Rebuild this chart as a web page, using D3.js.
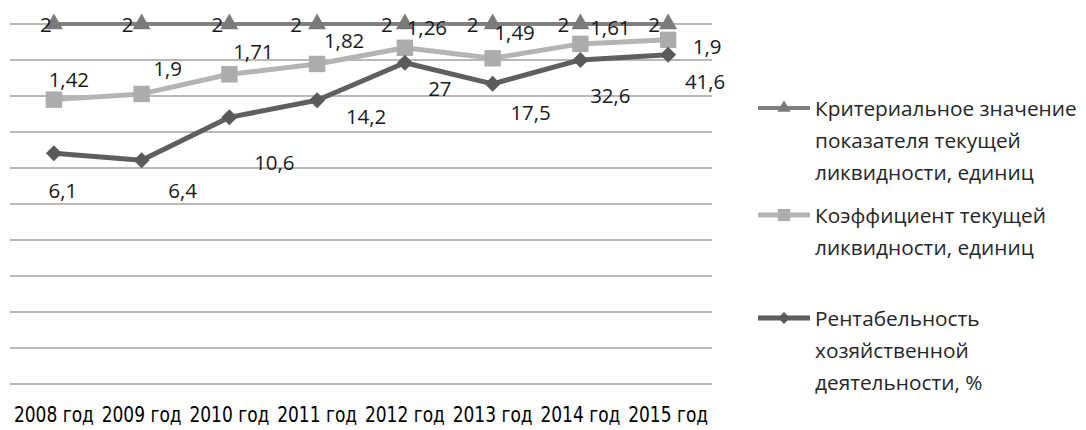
<!DOCTYPE html>
<html>
<head>
<meta charset="utf-8">
<script src="https://cdn.jsdelivr.net/npm/d3@7"></script>
<style>
  body { margin: 0; background: #fff; }
  svg { display: block; }
</style>
</head>
<body>
<div id="chart"></div>
<script>
// categories and series (100% stacked line chart, as in the original)
var years = ["2008 год", "2009 год", "2010 год", "2011 год", "2012 год", "2013 год", "2014 год", "2015 год"];
var criterion = [2, 2, 2, 2, 2, 2, 2, 2];
var coefficient = [1.42, 1.9, 1.71, 1.82, 1.26, 1.49, 1.61, 1.9];
var profitability = [6.1, 6.4, 10.6, 14.2, 27, 17.5, 32.6, 41.6];
var seriesNames = [
  ["Критериальное значение", "показателя текущей", "ликвидности, единиц"],
  ["Коэффициент текущей", "ликвидности, единиц"],
  ["Рентабельность", "хозяйственной", "деятельности, %"]
];

// label nudges (px) relative to each point, the labels were moved by hand in the source
var nudgeCrit = [[-8, 0], [-14, 0], [-12, 0], [-21, 0], [-18, 0], [-20, 0], [-17, 0], [-14, 0]];
var nudgeCoef = [[15, -21], [26, -26], [24, -23], [27, -24], [22, -21], [22, -26], [30, -17], [39, 6]];
var nudgeProf = [[9, 37], [41, 30], [45, 45], [49, 16], [35, 25], [38, 28], [30, 35], [37, 26]];

var width = 1086, height = 430;
var plot = { left: 10, right: 712, top: 24, bottom: 384 };

var svg = d3.select("#chart")
  .append("svg")
  .attr("width", width)
  .attr("height", height);

var table = years.map(function (y, i) {
  return { year: y, prof: profitability[i], coef: coefficient[i], crit: criterion[i] };
});

var stacked = d3.stack()
  .keys(["prof", "coef", "crit"])
  .offset(d3.stackOffsetExpand)(table);

var x = d3.scalePoint().domain(years).range([plot.left, plot.right]).padding(0.5);
var y = d3.scaleLinear().domain([0, 1]).range([plot.bottom, plot.top]);

// gridlines
svg.append("g")
  .selectAll("line")
  .data(y.ticks(10))
  .enter()
  .append("line")
  .attr("x1", plot.left)
  .attr("x2", plot.right)
  .attr("y1", function (d) { return y(d); })
  .attr("y2", function (d) { return y(d); })
  .attr("stroke", "#a0a0a0")
  .attr("stroke-width", 1.5);

// x axis labels
svg.append("g")
  .selectAll("text")
  .data(years)
  .enter()
  .append("text")
  .attr("x", function (d) { return x(d); })
  .attr("y", 422)
  .attr("text-anchor", "middle")
  .attr("textLength", 80)
  .attr("lengthAdjust", "spacingAndGlyphs")
  .style("font-family", "'DejaVu Sans Condensed', sans-serif")
  .style("font-size", "22px")
  .style("fill", "#000")
  .text(function (d) { return d; });

var styles = {
  crit: { color: "#7f7f7f", marker: "#7a7a7a", width: 4, symbol: d3.symbolTriangle, size: 140, rotate: 0, labels: criterion, nudge: nudgeCrit },
  coef: { color: "#b4b4b4", marker: "#acacac", width: 5, symbol: d3.symbolSquare, size: 270, rotate: 0, labels: coefficient, nudge: nudgeCoef },
  prof: { color: "#5f5f5f", marker: "#5a5a5a", width: 5, symbol: d3.symbolSquare, size: 128, rotate: 45, labels: profitability, nudge: nudgeProf }
};

var line = d3.line()
  .x(function (d) { return x(d.data.year); })
  .y(function (d) { return y(d[1]); });

function fmt(v) { return String(v).replace(".", ","); }

// draw in legend order: criterion, coefficient, profitability
["crit", "coef", "prof"].forEach(function (key) {
  var layer = stacked.find(function (s) { return s.key === key; });
  var st = styles[key];

  svg.append("path")
    .datum(layer)
    .attr("fill", "none")
    .attr("stroke", st.color)
    .attr("stroke-width", st.width)
    .attr("stroke-linejoin", "round")
    .attr("d", line);

  svg.append("g")
    .selectAll("path")
    .data(layer)
    .enter()
    .append("path")
    .attr("d", d3.symbol().type(st.symbol).size(st.size))
    .attr("transform", function (d) {
      return "translate(" + x(d.data.year) + "," + y(d[1]) + ") rotate(" + st.rotate + ")";
    })
    .attr("fill", st.marker);
});

// data labels on top
["crit", "coef", "prof"].forEach(function (key) {
  var layer = stacked.find(function (s) { return s.key === key; });
  var st = styles[key];
  svg.append("g")
    .selectAll("text")
    .data(layer)
    .enter()
    .append("text")
    .attr("x", function (d, i) { return x(d.data.year) + st.nudge[i][0]; })
    .attr("y", function (d, i) { return y(d[1]) + st.nudge[i][1]; })
    .attr("text-anchor", "middle")
    .attr("dominant-baseline", "central")
    .style("font-family", "'Open Sans', sans-serif")
    .style("font-size", "20.5px")
    .style("fill", "#1a1a1a")
    .text(function (d, i) { return fmt(st.labels[i]); });
});

// legend
var legendKeys = ["crit", "coef", "prof"];
var legendTop = [108, 215, 318];
var legend = svg.append("g");
legendKeys.forEach(function (key, k) {
  var st = styles[key];
  var cy = legendTop[k];
  legend.append("line")
    .attr("x1", 758).attr("x2", 810)
    .attr("y1", cy).attr("y2", cy)
    .attr("stroke", st.color)
    .attr("stroke-width", st.width);
  legend.append("path")
    .attr("d", d3.symbol().type(st.symbol).size(st.size * 0.55))
    .attr("transform", "translate(784," + cy + ") rotate(" + st.rotate + ")")
    .attr("fill", st.marker);
  seriesNames[k].forEach(function (t, j) {
    legend.append("text")
      .attr("x", 815)
      .attr("y", cy + j * 32)
      .attr("dominant-baseline", "central")
      .style("font-family", "'Open Sans', sans-serif")
      .style("font-size", "20.8px")
      .style("fill", "#262626")
      .text(t);
  });
});
</script>
</body>
</html>
